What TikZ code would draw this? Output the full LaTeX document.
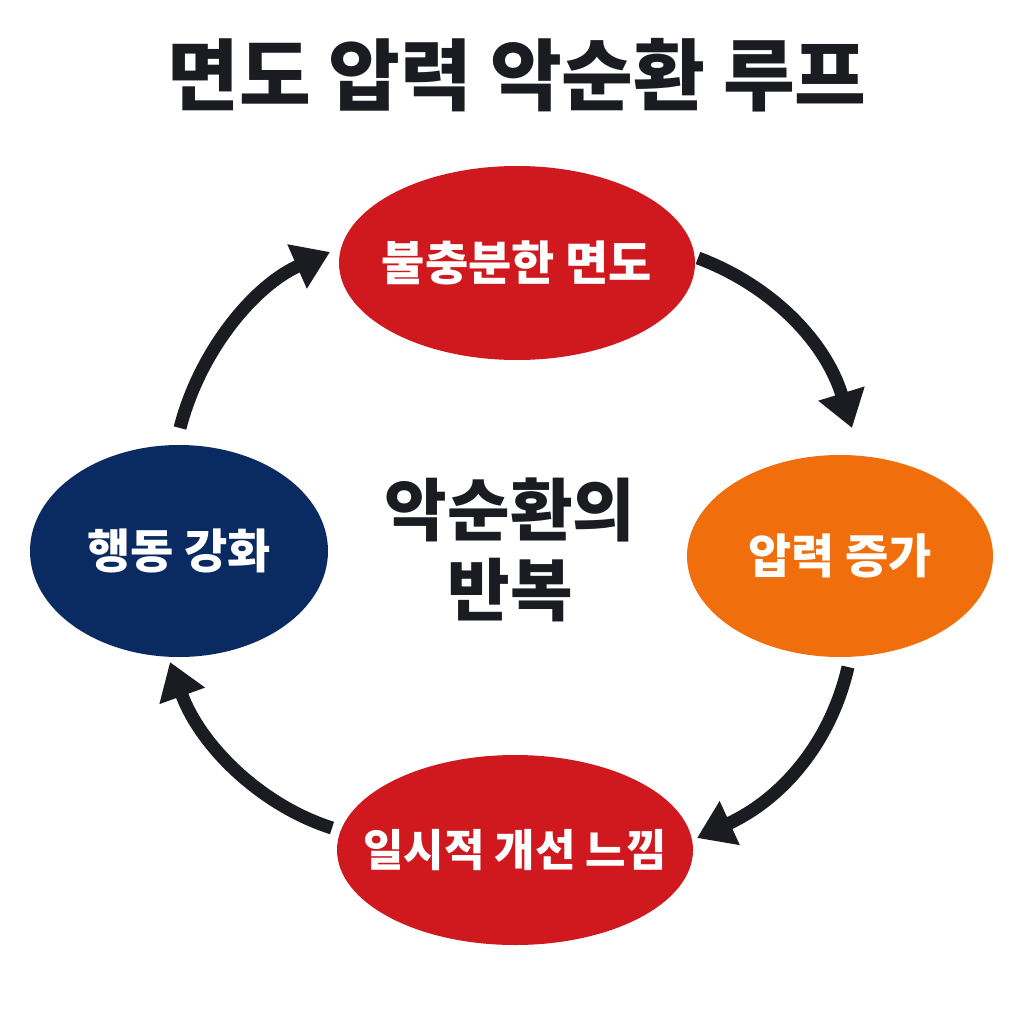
\documentclass[tikz,border=0pt]{standalone}
\usepackage{fontspec}
\setmainfont{Noto Sans CJK KR}[BoldFont={Noto Sans CJK KR Black}]
\usetikzlibrary{arrows.meta,shapes.geometric}
\definecolor{cred}{HTML}{D0181F}
\definecolor{corange}{HTML}{F06E0C}
\definecolor{cnavy}{HTML}{0A2A62}
\definecolor{cdark}{HTML}{1A1C22}
\begin{document}
\begin{tikzpicture}[x=1pt,y=-1pt,
  ell/.style={ellipse,inner sep=-60pt,text=white,font=\bfseries\fontsize{47}{52}\selectfont},
  arr/.style={draw=cdark,line width=13pt,-{Triangle[length=36pt,width=46pt]}}]
\useasboundingbox[fill=white] (0,0) rectangle (1024,1024);
\node[font=\bfseries\fontsize{78}{84}\selectfont,text=cdark] (title) at (517,75) {면도 압력 악순환 루프};
\node[ell,fill=cred,minimum width=356pt,minimum height=194pt] (top) at (517,263) {불충분한 면도};
\node[ell,fill=corange,minimum width=306pt,minimum height=202pt] (right) at (840,556) {압력 증가};
\node[ell,fill=cred,minimum width=356pt,minimum height=190pt,font=\bfseries\fontsize{44}{50}\selectfont] (bot) at (515,850) {일시적 개선 느낌};
\node[ell,fill=cnavy,minimum width=298pt,minimum height=212pt] (left) at (179,551) {행동 강화};
\node[font=\bfseries\fontsize{68}{80}\selectfont,text=cdark,align=center] (mid) at (510,550) {악순환의\\반복};
\coordinate (a1) at (698,258); \coordinate (b1) at (852,428);
\coordinate (a2) at (848,667); \coordinate (b2) at (697,838);
\coordinate (a3) at (332,828); \coordinate (b3) at (170,662);
\coordinate (a4) at (180,428); \coordinate (b4) at (330,252);
\draw[arr] (a1) .. controls (770,285) and (825,340) .. (b1);
\draw[arr] (a2) .. controls (830,745) and (780,800) .. (b2);
\draw[arr] (a3) .. controls (260,805) and (200,745) .. (b3);
\draw[arr] (a4) .. controls (200,350) and (255,285) .. (b4);
\end{tikzpicture}
\end{document}
